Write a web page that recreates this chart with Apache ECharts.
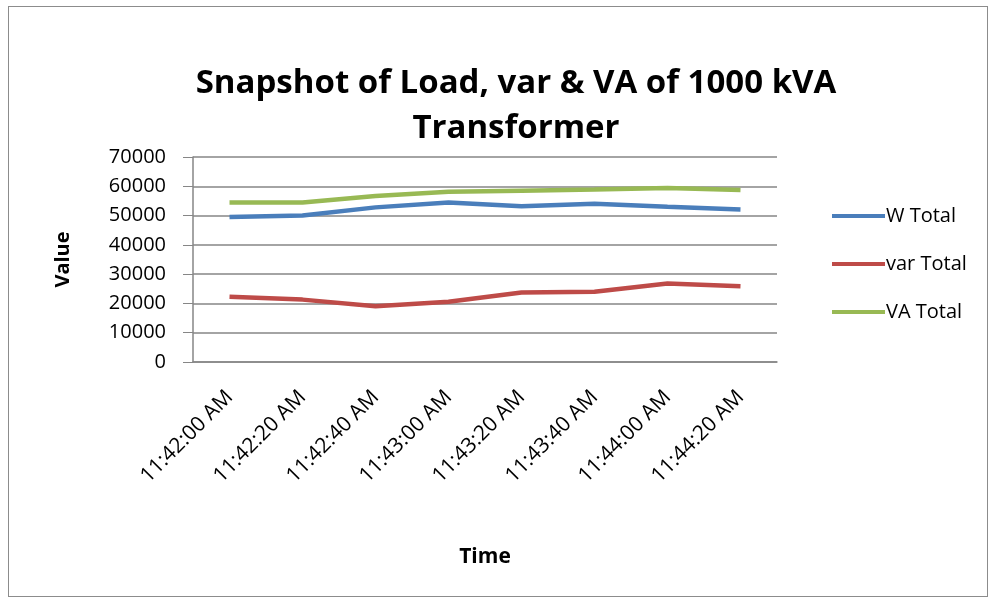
<!DOCTYPE html>
<html>
<head>
<meta charset="utf-8">
<script src="https://cdn.jsdelivr.net/npm/echarts@6/dist/echarts.min.js"></script>
<style>
html,body{margin:0;padding:0;background:#fff;}
#frame{position:absolute;left:8px;top:6px;width:980px;height:591px;border:1px solid #8c8c8c;box-sizing:border-box;}
#chart{position:absolute;left:0;top:0;width:998px;height:606px;}
</style>
</head>
<body>
<div id="frame"></div>
<div id="chart"></div>
<script>
const titleText = "Snapshot of Load, var & VA of 1000 kVA\nTransformer";
const categories = ["11:42:00 AM","11:42:20 AM","11:42:40 AM","11:43:00 AM","11:43:20 AM","11:43:40 AM","11:44:00 AM","11:44:20 AM"];
const wTotal   = [49500, 50000, 52800, 54500, 53200, 54000, 53000, 52100];
const varTotal = [22300, 21300, 19000, 20600, 23700, 24000, 26800, 25900];
const vaTotal  = [54500, 54500, 56700, 58100, 58500, 58900, 59400, 58700];
const yTicks = [0, 10000, 20000, 30000, 40000, 50000, 60000, 70000];

const font = "'Open Sans', 'Noto Sans', sans-serif";
const chart = echarts.init(document.getElementById('chart'));
chart.setOption({
  animation: false,
  textStyle: {fontFamily: font},
  title: {
    text: titleText,
    left: 511, top: 56, textAlign: 'center',
    textStyle: {fontFamily: font, fontSize: 33, fontWeight: 'bold', color: '#000', lineHeight: 45}
  },
  grid: {left: 193, right: 221, top: 157, bottom: 244, containLabel: false},
  legend: {
    orient: 'vertical', left: 827, top: 201, itemGap: 28,
    itemWidth: 53, itemHeight: 4,
    icon: 'rect',
    textStyle: {fontSize: 20, color: '#000', fontFamily: font, padding: [0,0,0,-4]},
    data: ['W Total','var Total','VA Total']
  },
  xAxis: {
    type: 'category', data: categories, boundaryGap: true,
    name: 'Time', nameLocation: 'middle', nameGap: 185,
    nameTextStyle: {fontSize: 21, fontWeight: 'bold', color: '#000'},
    axisLine: {lineStyle: {color: '#868686', width: 1.5}},
    axisTick: {show: false},
    axisLabel: {rotate: 45, fontSize: 21, color: '#000', margin: 32}
  },
  yAxis: {
    type: 'value', min: 0, max: 70000, interval: 10000,
    name: 'Value', nameLocation: 'middle', nameGap: 120,
    nameTextStyle: {fontSize: 20, fontWeight: 'bold', color: '#000'},
    axisLine: {show: true, lineStyle: {color: '#868686', width: 1.5}},
    axisTick: {show: true, inside: false, length: 10, lineStyle: {color: '#868686'}},
    splitLine: {lineStyle: {color: '#868686', width: 1.5}},
    axisLabel: {fontSize: 20, color: '#000', margin: 27,
      formatter: v => yTicks.includes(v) ? String(v) : ''}
  },
  series: [
    {name: 'W Total', type: 'line', data: wTotal, symbol: 'none', lineStyle: {width: 4.5, color: '#4a7ebb'}, itemStyle: {color: '#4a7ebb'}},
    {name: 'var Total', type: 'line', data: varTotal, symbol: 'none', lineStyle: {width: 4.5, color: '#be4b48'}, itemStyle: {color: '#be4b48'}},
    {name: 'VA Total', type: 'line', data: vaTotal, symbol: 'none', lineStyle: {width: 4.5, color: '#98b954'}, itemStyle: {color: '#98b954'}}
  ]
});
</script>
</body>
</html>
